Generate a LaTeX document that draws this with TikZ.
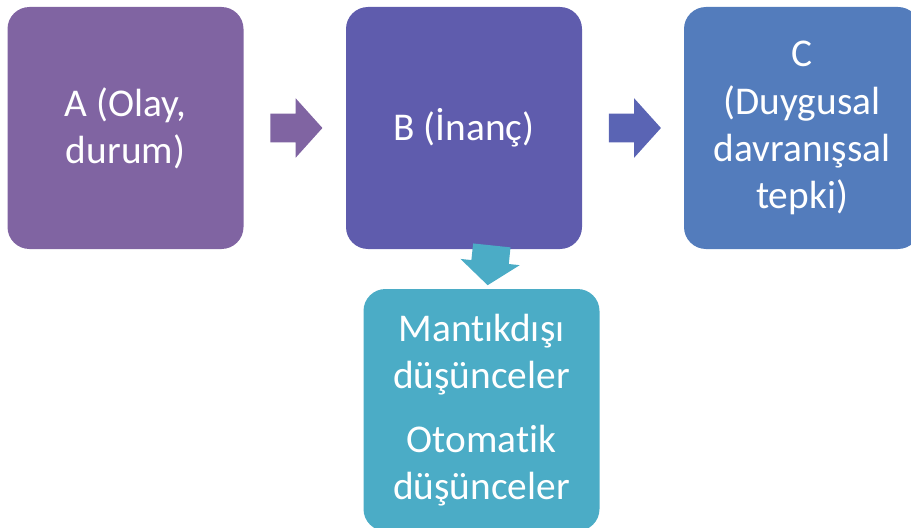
\documentclass[tikz,border=0pt]{standalone}
\usepackage{fontspec}
\setmainfont{Carlito}[Ligatures=NoCommon]
\usetikzlibrary{shapes.arrows}
\definecolor{purple1}{RGB}{128,100,162}
\definecolor{violet1}{RGB}{95,92,173}
\definecolor{blue1}{RGB}{83,124,188}
\definecolor{teal1}{RGB}{75,172,198}
\definecolor{arrowblue1}{RGB}{90,100,180}

\begin{document}
\begin{tikzpicture}[x=0.75pt,y=-0.75pt,
    stepbox/.style={shape=rectangle, rounded corners=16.5pt, minimum width=177pt, minimum height=181.5pt, inner sep=0pt, text=white, align=center, font=\fontsize{29.5}{35.3}\selectfont},
    blockarrow/.style={single arrow, single arrow head extend=11.6pt, single arrow tip angle=96, inner xsep=0pt, inner ysep=10.5pt, minimum height=39pt}
]

        \clip (0,0) rectangle (911,528);

        \node[stepbox, fill=purple1, name=A] at(125.5,128) {A (Olay,\\durum)};
        \node[stepbox, fill=violet1, name=B] at(464,128) {B (İnanç)};
        \node[stepbox, fill=blue1, name=C] at(802,128) {C\\(Duygusal\\davranışsal\\tepki)};
        \node[stepbox, fill=teal1, name=D] at(481.5,410) {Mantıkdışı\\düşünceler\\[13pt]Otomatik\\düşünceler};

        % block arrows between the boxes
        \node[blockarrow, fill=purple1, name=AB] at(290,128) {};
        \node[blockarrow, fill=arrowblue1, name=BC] at(628.5,128) {};
        \node[blockarrow, fill=teal1, name=BD, inner ysep=13.9pt, single arrow head extend=8.25pt, single arrow tip angle=104, minimum height=30pt, rotate=-96] at(490.5,258) {};

\end{tikzpicture}
\end{document}
